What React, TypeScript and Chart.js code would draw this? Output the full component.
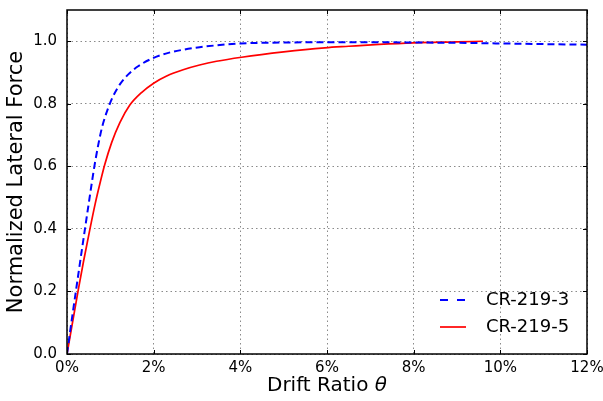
import React, { useEffect, useRef } from "react";
import { Chart, registerables } from "chart.js";

Chart.register(...registerables);

// CR-219-3 (blue dashed)
const driftA = [0, 0.1, 0.22, 0.34, 0.42, 0.5, 0.57, 0.65, 0.8, 0.96, 1.07, 1.22, 1.42, 1.65, 2.0, 2.34, 2.68, 3.06, 3.45, 4.0, 5.0, 6.0, 7.0, 8.0, 9.0, 10.0, 11.0, 12.0];
const forceA = [0, 0.1, 0.215, 0.33, 0.405, 0.48, 0.545, 0.615, 0.72, 0.79, 0.826, 0.862, 0.895, 0.921, 0.947, 0.963, 0.973, 0.981, 0.987, 0.993, 0.996, 0.997, 0.997, 0.996, 0.995, 0.993, 0.991, 0.989];

// CR-219-5 (red solid)
const driftB = [0, 0.26, 0.38, 0.53, 0.65, 0.76, 0.87, 1.03, 1.22, 1.45, 1.72, 2.0, 2.3, 2.68, 3.06, 3.45, 4.03, 5.0, 5.95, 6.5, 7.2, 8.0, 9.0, 9.6];
const forceB = [0, 0.205, 0.295, 0.4, 0.48, 0.545, 0.605, 0.676, 0.74, 0.796, 0.836, 0.866, 0.889, 0.909, 0.924, 0.936, 0.949, 0.966, 0.979, 0.984, 0.99, 0.995, 0.998, 1.0];

const seriesLabels = ["CR-219-3", "CR-219-5"];
const xTicks = [0, 2, 4, 6, 8, 10, 12];
const yTicks = [0, 0.2, 0.4, 0.6, 0.8, 1.0];

const FONT = "'DejaVu Sans', sans-serif";

const framePlugin = {
  id: "frameAndLegend",
  afterDraw(chart: any) {
    const { ctx, chartArea } = chart;
    const { left, right, top, bottom } = chartArea;
    const xs = chart.scales.x;
    const ys = chart.scales.y;
    ctx.save();

    // inward tick marks on all four sides
    ctx.strokeStyle = "#000";
    ctx.lineWidth = 1;
    ctx.setLineDash([]);
    ctx.beginPath();
    for (const v of xTicks) {
      const px = Math.round(xs.getPixelForValue(v)) + 0.5;
      ctx.moveTo(px, bottom);
      ctx.lineTo(px, bottom - 4);
      ctx.moveTo(px, top);
      ctx.lineTo(px, top + 4);
    }
    for (const v of yTicks) {
      const py = Math.round(ys.getPixelForValue(v)) + 0.5;
      ctx.moveTo(left, py);
      ctx.lineTo(left + 4, py);
      ctx.moveTo(right, py);
      ctx.lineTo(right - 4, py);
    }
    ctx.stroke();

    // frame
    ctx.lineWidth = 1.5;
    ctx.strokeRect(left, top, right - left, bottom - top);

    // legend
    const rows = [bottom - 54, bottom - 27];
    chart.data.datasets.forEach((ds: any, i: number) => {
      const y = rows[i];
      ctx.beginPath();
      ctx.strokeStyle = ds.borderColor;
      ctx.lineWidth = ds.borderWidth;
      ctx.setLineDash(ds.borderDash && ds.borderDash.length ? [8, 9] : []);
      ctx.moveTo(right - 147, y);
      ctx.lineTo(right - 121, y);
      ctx.stroke();
      ctx.setLineDash([]);
      ctx.fillStyle = "#000";
      ctx.font = `18px ${FONT}`;
      ctx.textAlign = "left";
      ctx.textBaseline = "middle";
      ctx.fillText(ds.label, right - 101, y);
    });

    // x-axis title with italic theta
    const main = "Drift Ratio ";
    const sym = "\u03B8";
    ctx.font = `20px ${FONT}`;
    const w1 = ctx.measureText(main).width;
    ctx.font = `italic 20px ${FONT}`;
    const w2 = ctx.measureText(sym).width;
    const cx = (left + right) / 2;
    const startX = cx - (w1 + w2) / 2;
    const ty = 386;
    ctx.fillStyle = "#000";
    ctx.textBaseline = "middle";
    ctx.textAlign = "left";
    ctx.font = `20px ${FONT}`;
    ctx.fillText(main, startX, ty);
    ctx.font = `italic 20px ${FONT}`;
    ctx.fillText(sym, startX + w1, ty);

    ctx.restore();
  },
};

export default function App() {
  const ref = useRef<HTMLCanvasElement | null>(null);

  useEffect(() => {
    document.body.style.margin = "0";
    const canvas = ref.current;
    if (!canvas) return;
    const chart = new Chart(canvas, {
      type: "line",
      data: {
        datasets: [
          {
            label: seriesLabels[0],
            data: driftA.map((x, i) => ({ x, y: forceA[i] })),
            borderColor: "#0000ff",
            borderWidth: 2,
            borderDash: [7, 4],
            pointRadius: 0,
            fill: false,
            cubicInterpolationMode: "monotone",
          },
          {
            label: seriesLabels[1],
            data: driftB.map((x, i) => ({ x, y: forceB[i] })),
            borderColor: "#ff0000",
            borderWidth: 1.7,
            pointRadius: 0,
            fill: false,
            cubicInterpolationMode: "monotone",
          },
        ],
      },
      options: {
        responsive: false,
        animation: false,
        layout: { padding: { top: 10, right: 16, left: 0, bottom: 0 } },
        plugins: {
          legend: { display: false },
          tooltip: { enabled: false },
        },
        scales: {
          x: {
            type: "linear",
            min: 0,
            max: 12,
            afterBuildTicks: (axis: any) => {
              axis.ticks = xTicks.map((v) => ({ value: v }));
            },
            afterFit: (axis: any) => {
              axis.height = 47;
              axis.paddingLeft = 0;
              axis.paddingRight = 0;
            },
            ticks: {
              color: "#000",
              font: { family: FONT, size: 15 },
              padding: 5,
              maxRotation: 0,
              callback: (v: any) => `${v}%`,
            },
            grid: {
              color: "#8a8a8a",
              lineWidth: 1,
              drawTicks: false,
            },
            border: { display: false, dash: [1.5, 3] },
            title: { display: false },
          },
          y: {
            type: "linear",
            min: 0,
            max: 1.1,
            afterBuildTicks: (axis: any) => {
              axis.ticks = yTicks.map((v) => ({ value: v }));
            },
            afterFit: (axis: any) => {
              axis.width = 67;
              axis.paddingTop = 0;
              axis.paddingBottom = 0;
            },
            ticks: {
              color: "#000",
              font: { family: FONT, size: 15 },
              padding: 10,
              callback: (v: any) => Number(v).toFixed(1),
            },
            grid: {
              color: "#8a8a8a",
              lineWidth: 1,
              drawTicks: false,
            },
            border: { display: false, dash: [1.5, 3] },
            title: {
              display: true,
              text: "Normalized Lateral Force",
              color: "#000",
              font: { family: FONT, size: 21 },
            },
          },
        },
      },
      plugins: [framePlugin],
    } as any);
    return () => chart.destroy();
  }, []);

  return <canvas ref={ref} width={603} height={401} style={{ display: "block" }} />;
}
